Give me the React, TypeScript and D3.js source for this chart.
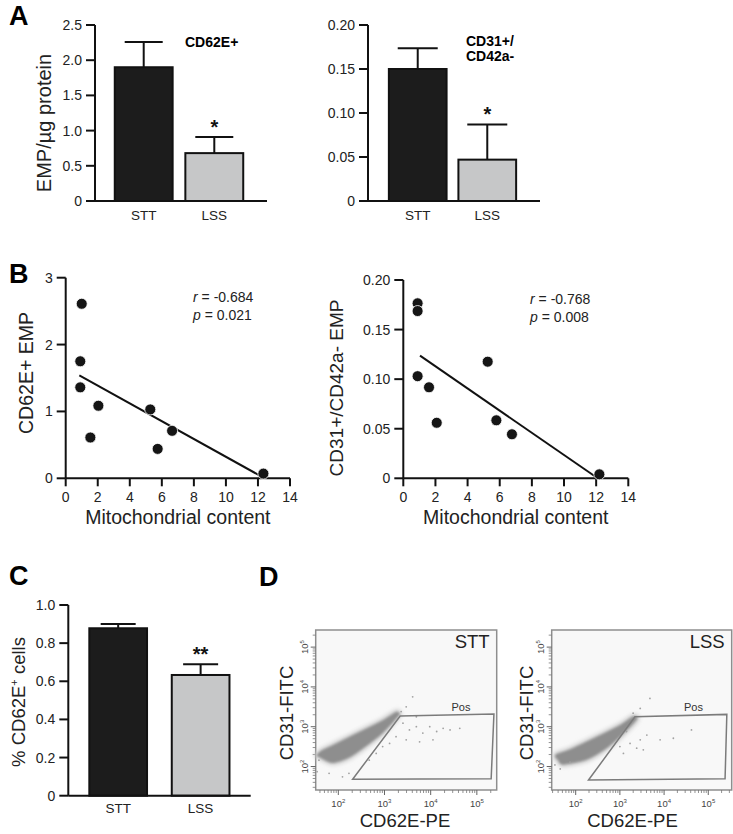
import * as d3 from "d3";

const FONT = "'Liberation Sans', Arial, Helvetica, sans-serif";

// ---- panel A: EMP per µg protein ----
const groups = ["STT", "LSS"];
const cd62eMean = [1.9, 0.68];
const cd62eSem = [0.36, 0.23];
const cd31Mean = [0.15, 0.047];
const cd31Sem = [0.0235, 0.04];
const aLeftTicks = [0, 0.5, 1.0, 1.5, 2.0, 2.5];
const aRightTicks = [0, 0.05, 0.1, 0.15, 0.2];

// ---- panel B: correlation with mitochondrial content ----
const mitoB1 = [1.0, 0.91, 0.91, 2.04, 1.54, 5.28, 6.64, 5.74, 12.34];
const empB1 = [2.61, 1.75, 1.36, 1.085, 0.61, 1.03, 0.71, 0.44, 0.07];
const fitB1 = [[0.85, 1.54], [12.34, 0.01]];
const mitoB2 = [0.89, 0.89, 0.89, 1.6, 2.08, 5.25, 5.79, 6.76, 12.2];
const empB2 = [0.1765, 0.1687, 0.103, 0.0918, 0.056, 0.1176, 0.0585, 0.0444, 0.004];
const fitB2 = [[1.04, 0.1237], [12.1, 0.0]];
const mitoTicks = [0, 2, 4, 6, 8, 10, 12, 14];
const b1Ticks = [0, 1, 2, 3];
const b2Ticks = [0, 0.05, 0.1, 0.15, 0.2];

// ---- panel C: % CD62E+ cells ----
const pctMean = [0.878, 0.633];
const pctSem = [0.022, 0.056];
const cTicks = [0, 0.2, 0.4, 0.6, 0.8, 1.0];

// ---- panel D: flow cytometry (log10 of CD62E-PE, CD31-FITC) ----
const decades = [2, 3, 4, 5];
const gateStt = [[2.31, 1.68], [3.34, 3.27], [5.37, 3.32], [5.31, 1.69]];
const gateLss = [[2.29, 1.66], [3.34, 3.25], [5.42, 3.31], [5.38, 1.69]];
const cloudStt = [
  [1.58, 2.25], [1.87, 2.1], [2.23, 2.23], [2.6, 2.52], [2.96, 2.85], [3.25, 3.21], [3.32, 3.32],
  [3.25, 3.36], [2.96, 3.15], [2.6, 2.94], [2.23, 2.73], [1.87, 2.52], [1.65, 2.4], [1.54, 2.29],
];
const cloudLss = [
  [1.61, 2.16], [1.72, 2.06], [2.25, 2.18], [2.7, 2.47], [3.08, 2.84], [3.38, 3.19],
  [3.3, 3.25], [3.0, 3.03], [2.48, 2.74], [1.87, 2.42], [1.55, 2.29],
];
const eventsStt = [
  [3.4, 3.09], [3.54, 2.92], [3.69, 3.0], [3.83, 2.84], [3.98, 3.0], [4.13, 2.88], [4.27, 2.96],
  [4.42, 2.92], [4.63, 2.96], [3.47, 2.67], [3.76, 2.62], [3.25, 2.75], [3.11, 2.58], [2.96, 2.5],
  [2.82, 2.33], [2.67, 2.16], [4.05, 2.67], [3.69, 3.25], [3.61, 3.75], [3.47, 3.5], [3.36, 3.38],
  [2.23, 1.83], [1.8, 1.83], [1.58, 2.16], [1.54, 1.87], [2.09, 1.74],
];
const eventsLss = [
  [3.68, 3.71], [3.46, 3.46], [3.3, 3.34], [3.15, 2.88], [3.38, 2.46], [3.46, 2.67], [3.23, 2.58],
  [3.61, 2.79], [3.91, 2.67], [4.21, 2.71], [4.62, 2.92], [3.0, 2.5], [3.53, 2.42], [3.08, 2.33],
  [1.53, 2.04], [1.65, 1.94], [1.87, 2.11],
];

const fmt = (d: number, digits: number) => (d === 0 ? "0" : d.toFixed(digits));

function YAxis({ y, x, ticks, digits, top, bottom }: any) {
  return (
    <g>
      <line x1={x} x2={x} y1={bottom} y2={top} stroke="#111" strokeWidth={2} />
      {ticks.map((t: number) => (
        <g key={t}>
          <line x1={x - 9} x2={x} y1={y(t)} y2={y(t)} stroke="#111" strokeWidth={2} />
          <text x={x - 13} y={y(t) + 5} textAnchor="end" fontSize={14} fill="#222">
            {fmt(t, digits)}
          </text>
        </g>
      ))}
    </g>
  );
}

function BarPanel(p: any) {
  const y = d3.scaleLinear().domain([0, p.max]).range([p.bottom, p.top]);
  const x = d3.scaleBand().domain(groups).range(p.band).paddingInner(p.padIn).paddingOuter(p.padOut);
  return (
    <g>
      {groups.map((g, i) => {
        const cx = (x(g) as number) + x.bandwidth() / 2;
        const errTop = y(p.means[i] + p.sems[i]);
        return (
          <g key={g}>
            <line x1={cx} x2={cx} y1={y(p.means[i])} y2={errTop} stroke="#111" strokeWidth={2} />
            <line x1={cx - p.capW / 2} x2={cx + p.capW / 2} y1={errTop} y2={errTop} stroke="#111" strokeWidth={2} />
            <rect
              x={x(g)}
              y={y(p.means[i])}
              width={x.bandwidth()}
              height={p.bottom - y(p.means[i])}
              fill={i === 0 ? "#1c1c1c" : "#c6c7c8"}
              stroke="#111"
              strokeWidth={2}
            />
            <text x={cx} y={p.bottom + p.catOffset} textAnchor="middle" fontSize={13.5} fill="#222">
              {g}
            </text>
            {p.stars[i] && (
              <text x={cx} y={errTop - 3} textAnchor="middle" fontSize={20} fontWeight="bold" fill="#111">
                {p.stars[i]}
              </text>
            )}
          </g>
        );
      })}
      <line x1={p.band[0]} x2={p.axisEnd} y1={p.bottom} y2={p.bottom} stroke="#111" strokeWidth={2} />
      <YAxis y={y} x={p.band[0]} ticks={p.ticks} digits={p.digits} top={p.top} bottom={p.bottom} />
    </g>
  );
}

function ScatterPanel(p: any) {
  const x = d3.scaleLinear().domain([0, 14]).range([p.left, p.right]);
  const y = d3.scaleLinear().domain([0, p.max]).range([p.bottom, p.top]);
  const line = d3.line<number[]>().x((d) => x(d[0])).y((d) => y(d[1]));
  return (
    <g>
      <YAxis y={y} x={p.left} ticks={p.ticks} digits={p.digits} top={p.top} bottom={p.bottom} />
      <line x1={p.left} x2={p.right} y1={p.bottom} y2={p.bottom} stroke="#111" strokeWidth={2} />
      {mitoTicks.map((t) => (
        <g key={t}>
          <line x1={x(t)} x2={x(t)} y1={p.bottom} y2={p.bottom + 8} stroke="#111" strokeWidth={2} />
          <text x={x(t)} y={p.bottom + 24} textAnchor="middle" fontSize={14} fill="#222">
            {t}
          </text>
        </g>
      ))}
      <path d={line(p.fit) || ""} stroke="#111" strokeWidth={2} fill="none" />
      {p.xs.map((v: number, i: number) => (
        <circle key={i} cx={x(v)} cy={y(p.ys[i])} r={5.5} fill="#151515" stroke="#fff" strokeWidth={0.8} />
      ))}
      <text x={(p.left + p.right) / 2} y={p.bottom + 46} textAnchor="middle" fontSize={19.5} fill="#222">
        Mitochondrial content
      </text>
      <text x={p.statX} y={p.statY} fontSize={14} fill="#222">
        <tspan fontStyle="italic">r</tspan> = {p.r}
      </text>
      <text x={p.statX} y={p.statY + 17.5} fontSize={14} fill="#222">
        <tspan fontStyle="italic">p</tspan> = {p.p}
      </text>
    </g>
  );
}

function FlowPanel(p: any) {
  const { x0, y0, w, h } = p;
  const x = d3.scaleLog().domain([10 ** p.xDom[0], 10 ** p.xDom[1]]).range([x0, x0 + w]);
  const y = d3.scaleLog().domain([10 ** 1.41, 10 ** 5.43]).range([y0 + h, y0]);
  const px = (d: number[]) => [x(10 ** d[0]), y(10 ** d[1])] as [number, number];
  const cloud = d3.line().curve(d3.curveCardinalClosed.tension(0.2))(p.cloud.map(px)) || "";
  const gate = d3.line().curve(d3.curveLinearClosed)(p.gate.map(px)) || "";
  const xMinor = x.ticks().filter((t) => !decades.some((e) => Math.abs(t - 10 ** e) < 1e-6));
  const yMinor = y.ticks().filter((t) => !decades.some((e) => Math.abs(t - 10 ** e) < 1e-6));
  return (
    <g>
      <rect x={x0} y={y0} width={w} height={h} fill="#f8f8f8" stroke="#8e8e8e" strokeWidth={1.5} />
      {xMinor.map((t, i) => (
        <line key={"xm" + i} x1={x(t)} x2={x(t)} y1={y0 + h} y2={y0 + h + 3} stroke="#777" strokeWidth={0.8} />
      ))}
      {yMinor.map((t, i) => (
        <line key={"ym" + i} x1={x0 - 3} x2={x0} y1={y(t)} y2={y(t)} stroke="#777" strokeWidth={0.8} />
      ))}
      {decades.map((e) => (
        <g key={e}>
          <line x1={x(10 ** e)} x2={x(10 ** e)} y1={y0 + h} y2={y0 + h + 5} stroke="#666" strokeWidth={1} />
          <line x1={x0 - 5} x2={x0} y1={y(10 ** e)} y2={y(10 ** e)} stroke="#666" strokeWidth={1} />
          <text x={x(10 ** e)} y={y0 + h + 17} textAnchor="middle" fontSize={9.5} fill="#444">
            10<tspan dy={-4} fontSize={6}>{e}</tspan>
          </text>
          <text
            transform={`translate(${x0 - 8},${y(10 ** e)}) rotate(-90)`}
            textAnchor="middle"
            fontSize={9.5}
            fill="#444"
          >
            10<tspan dy={-4} fontSize={6}>{e}</tspan>
          </text>
        </g>
      ))}
      <path d={cloud} fill="#c2c2c2" stroke="#c8c8c8" strokeWidth={5} strokeLinejoin="round" filter="url(#halo)" />
      <path d={cloud} fill="#8e8e8e" stroke="#9c9c9c" strokeWidth={1} filter="url(#soft)" />
      {p.events.map((d: number[], i: number) => {
        const [cx, cy] = px(d);
        return <circle key={i} cx={cx} cy={cy} r={0.9} fill="#a2a2a2" />;
      })}
      <path d={gate} fill="none" stroke="#7b7b7b" strokeWidth={1.5} />
      <text x={x(10 ** 4.45)} y={y(10 ** 3.4)} fontSize={11} fill="#333">
        Pos
      </text>
      <text x={x0 + w - 7} y={y0 + 18} textAnchor="end" fontSize={18.5} fill="#222">
        {p.title}
      </text>
      <text transform={`translate(${p.yLabelX},${y0 + h / 2 + 3}) rotate(-90)`} textAnchor="middle" fontSize={18.5} fill="#222">
        CD31-FITC
      </text>
      <text x={p.xLabelX} y={y0 + h + 37} textAnchor="middle" fontSize={18.5} fill="#222">
        CD62E-PE
      </text>
    </g>
  );
}

export default function App() {
  return (
    <svg
      width={733}
      height={834}
      style={{ position: "absolute", left: 0, top: 0, background: "#fff" }}
      fontFamily={FONT}
    >
      <defs>
        <filter id="soft" x="-10%" y="-10%" width="120%" height="120%">
          <feGaussianBlur stdDeviation={0.9} />
        </filter>
        <filter id="halo" x="-20%" y="-20%" width="140%" height="140%">
          <feGaussianBlur stdDeviation={2} />
        </filter>
      </defs>

      {/* panel letters */}
      <text x={9} y={25} fontSize={27} fontWeight="bold">A</text>
      <text x={9} y={283} fontSize={27} fontWeight="bold">B</text>
      <text x={9} y={585} fontSize={27} fontWeight="bold">C</text>
      <text x={259} y={586} fontSize={27} fontWeight="bold">D</text>

      {/* A */}
      <BarPanel
        band={[95, 263]} axisEnd={267} padIn={0.18} padOut={0.28} top={25} bottom={201}
        max={2.5} ticks={aLeftTicks} digits={1} means={cd62eMean} sems={cd62eSem}
        capW={38} catOffset={19} stars={["", "*"]}
      />
      <text transform="translate(51,123) rotate(-90)" textAnchor="middle" fontSize={20} fill="#222">
        EMP/µg protein
      </text>
      <text x={185} y={47} fontSize={14} fontWeight="bold">CD62E+</text>
      <BarPanel
        band={[368, 537]} axisEnd={540} padIn={0.17} padOut={0.3} top={25} bottom={201}
        max={0.2} ticks={aRightTicks} digits={2} means={cd31Mean} sems={cd31Sem}
        capW={40} catOffset={19} stars={["", "*"]}
      />
      <text x={466} y={46} fontSize={14} fontWeight="bold">CD31+/</text>
      <text x={466} y={61} fontSize={14} fontWeight="bold">CD42a-</text>

      {/* B */}
      <ScatterPanel
        left={65.7} right={290} top={277.7} bottom={478.3} max={3} ticks={b1Ticks} digits={0}
        xs={mitoB1} ys={empB1} fit={fitB1} statX={193} statY={302} r="-0.684" p="0.021"
      />
      <text transform="translate(33,373) rotate(-90)" textAnchor="middle" fontSize={19.5} fill="#222">
        CD62E+ EMP
      </text>
      <ScatterPanel
        left={403.3} right={628.3} top={280} bottom={478.3} max={0.2} ticks={b2Ticks} digits={2}
        xs={mitoB2} ys={empB2} fit={fitB2} statX={530} statY={304} r="-0.768" p="0.008"
      />
      <text transform="translate(343,388) rotate(-90)" textAnchor="middle" fontSize={19} fill="#222">
        CD31+/CD42a- EMP
      </text>

      {/* C */}
      <BarPanel
        band={[68.3, 250.5]} axisEnd={250.7} padIn={0.3} padOut={0.255} top={605} bottom={795.7}
        max={1.0} ticks={cTicks} digits={1} means={pctMean} sems={pctSem}
        capW={35} catOffset={17} stars={["", "**"]}
      />
      <text transform="translate(25,702) rotate(-90)" textAnchor="middle" fontSize={18.5} fill="#222">
        % CD62E<tspan dy={-7} fontSize={11}>+</tspan><tspan dy={7}> cells</tspan>
      </text>

      {/* D */}
      <FlowPanel
        x0={315.7} y0={630} w={181} h={160} xDom={[1.51, 5.43]} gate={gateStt} cloud={cloudStt}
        events={eventsStt} title="STT" yLabelX={293} xLabelX={405}
      />
      <FlowPanel
        x0={551.7} y0={630} w={180} h={160} xDom={[1.457, 5.53]} gate={gateLss} cloud={cloudLss}
        events={eventsLss} title="LSS" yLabelX={533} xLabelX={632.5}
      />
    </svg>
  );
}
